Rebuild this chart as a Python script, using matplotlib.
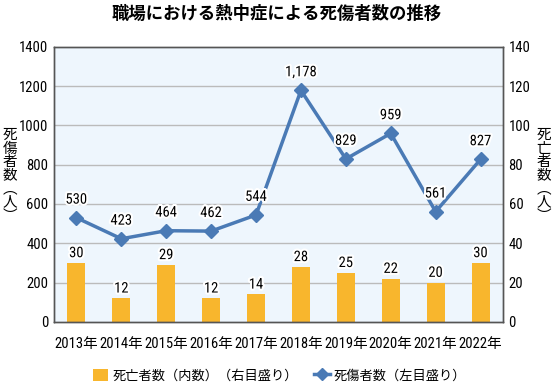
import matplotlib
matplotlib.use("Agg")
import matplotlib.pyplot as plt
import matplotlib.patheffects as pe
from matplotlib.lines import Line2D
from matplotlib.patches import Patch
from matplotlib import font_manager as fm
import numpy as np

years = ["2013年", "2014年", "2015年", "2016年", "2017年", "2018年", "2019年", "2020年", "2021年", "2022年"]
casualties = [530, 423, 464, 462, 544, 1178, 829, 959, 561, 827]
deaths = [30, 12, 29, 12, 14, 28, 25, 22, 20, 30]
left_ticks = [0, 200, 400, 600, 800, 1000, 1200, 1400]
right_ticks = [0, 20, 40, 60, 80, 100, 120, 140]

names = {f.name for f in fm.fontManager.ttflist}
narrow = [n for n in ["Liberation Sans Narrow", "DejaVu Sans Condensed", "Roboto Condensed"] if n in names]
NUM = (narrow[:1] if narrow else ["Liberation Sans"]) + ["Noto Sans CJK JP"]
JP = ["Noto Sans CJK JP", "DejaVu Sans"]
plt.rcParams['font.family'] = NUM
condensed = bool(narrow)

fig = plt.figure(figsize=(5.53, 3.86), dpi=100)
ax = fig.add_axes([0.0976, 0.166, 0.812, 0.713])
ax2 = ax.twinx()

bar_c = "#F8B62D"
line_c = "#4A7AB5"
ax.set_zorder(ax2.get_zorder() + 1)
ax.patch.set_visible(False)
ax2.patch.set_visible(True)
ax2.set_facecolor("#EEF6FD")

x = np.arange(len(years))
ax2.bar(x, deaths, width=0.4, color=bar_c, zorder=2)
ax2.set_ylim(0, 140)
ax2.set_yticks(right_ticks)

ax.set_ylim(0, 1400)
ax.set_yticks(left_ticks)
ax.set_xlim(-0.5, 9.5)
ax.set_xticks(x)
ax.set_xticklabels(years)
for t in ax.get_xticklabels():
    t.set_fontsize(10 if condensed else 8.6)

for v in left_ticks[1:-1]:
    ax2.axhline(v / 10, color="#BBBBBB", lw=1.0, zorder=1)

ax.plot(x, casualties, color=line_c, lw=2.5, marker="D", markersize=7, zorder=5)

halo = [pe.withStroke(linewidth=3, foreground="white")]
for xi, v in zip(x, casualties):
    ax.annotate(f"{v:,}", (xi, v), xytext=(0, 8), textcoords="offset points",
                ha="center", va="bottom", fontsize=10.5, color="black",
                path_effects=halo, zorder=6)
for xi, v in zip(x, deaths):
    ax.annotate(f"{v}", (xi, v * 10), xytext=(0, 2), textcoords="offset points",
                ha="center", va="bottom", fontsize=10.5, color="black",
                path_effects=halo, zorder=6)

for a in (ax, ax2):
    a.tick_params(length=0, labelsize=10.5, pad=4)
    for s in a.spines.values():
        s.set_color("#555555")
        s.set_linewidth(1.0)
ax.tick_params(axis="x", pad=11)

fig.text(0.5, 0.963, "職場における熱中症による死傷者数の推移", ha="center", va="center",
         fontsize=12.5, fontweight="bold", fontfamily=JP)

fig.text(0.018, 0.545, "死\n傷\n者\n数\n︵\n人\n︶", ha="center", va="center",
         fontsize=10.5, fontfamily=JP, linespacing=0.95)
fig.text(0.983, 0.545, "死\n亡\n者\n数\n︵\n人\n︶", ha="center", va="center",
         fontsize=10.5, fontfamily=JP, linespacing=0.95)

handles = [Patch(facecolor=bar_c, edgecolor="none"),
           Line2D([0], [0], color=line_c, lw=2.5, marker="D", markersize=6)]
leg = fig.legend(handles, ["死亡者数（内数）（右目盛り）", "死傷者数（左目盛り）"],
                 loc="center", bbox_to_anchor=(0.505, 0.027), ncol=2, frameon=False,
                 prop={"family": JP, "size": 9.5}, handlelength=1.2, handletextpad=0.3,
                 columnspacing=1.2, handleheight=1.0)

fig.savefig("out.png", dpi=100)
